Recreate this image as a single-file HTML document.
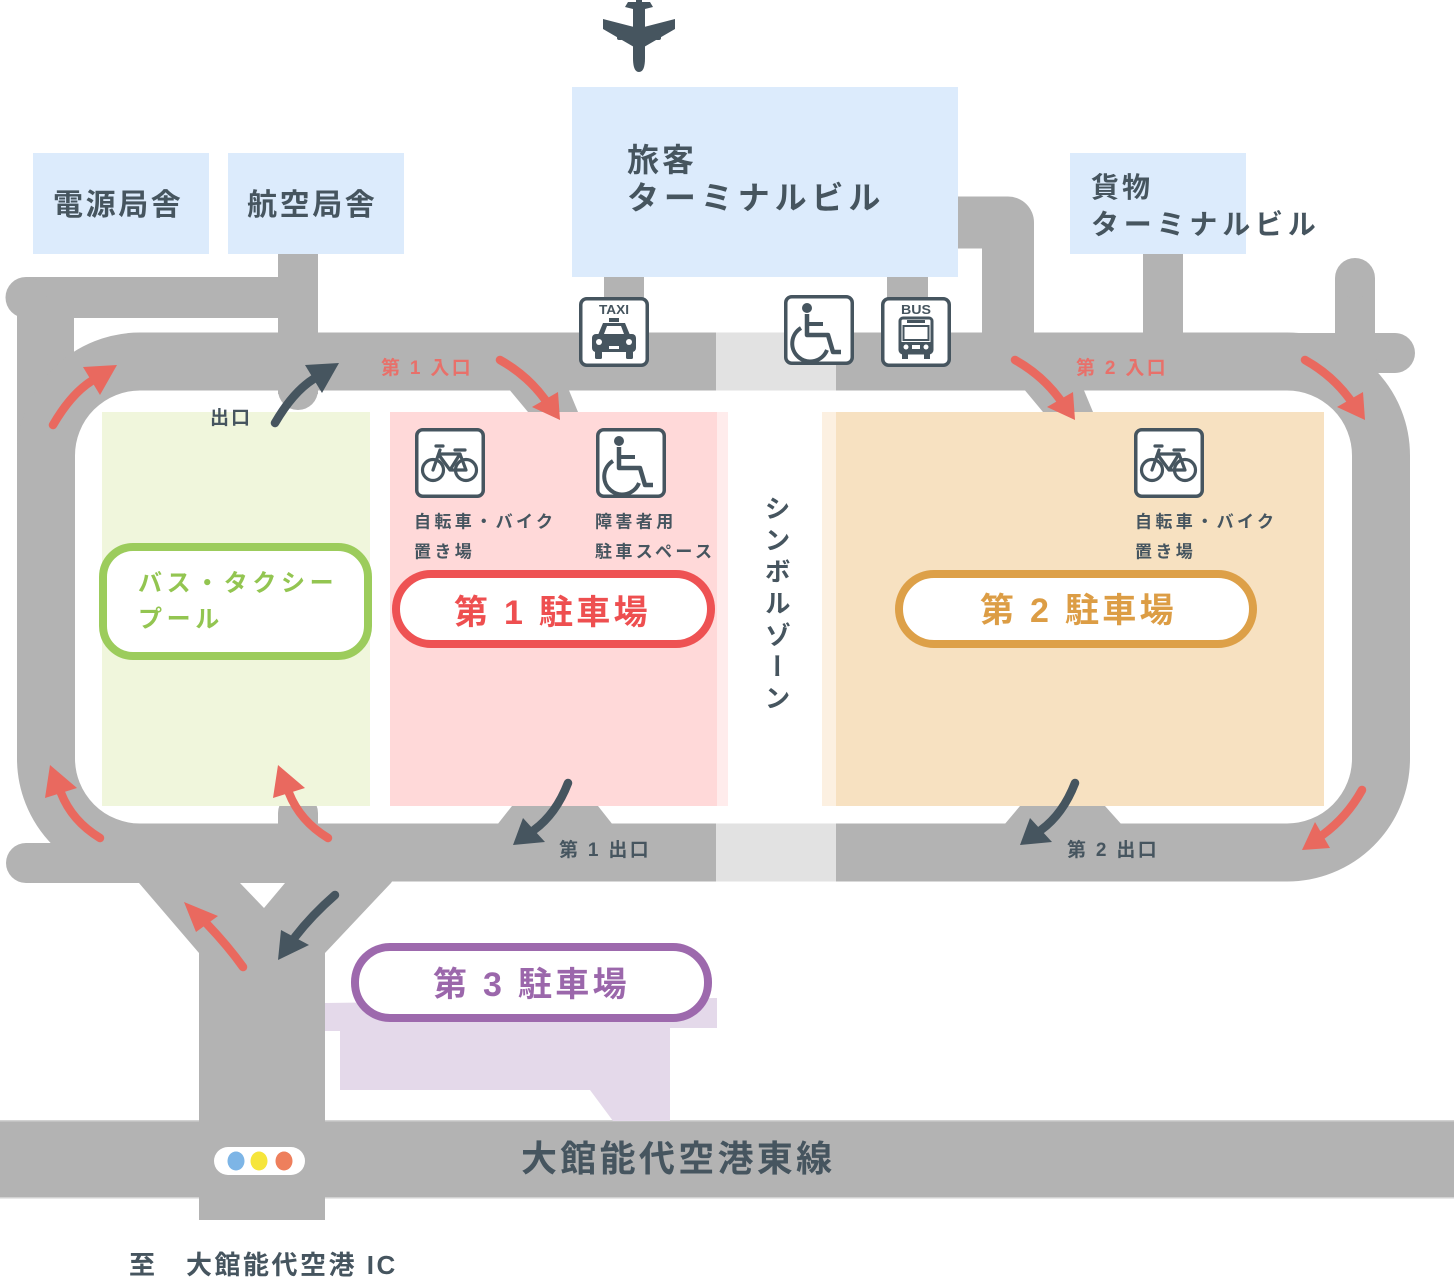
<!DOCTYPE html>
<html><head><meta charset="utf-8">
<style>
html,body{margin:0;padding:0;background:#fff;}
body{width:1454px;height:1277px;position:relative;overflow:hidden;}
svg{position:absolute;left:0;top:0;}
text{font-family:"Liberation Sans","Noto Sans CJK JP",sans-serif;font-weight:bold;}
.v{position:absolute;left:764px;top:495px;width:26px;writing-mode:vertical-rl;font-family:"Noto Sans CJK JP",sans-serif;font-weight:bold;font-size:26px;line-height:26px;letter-spacing:5.6px;color:#46555f;}
</style></head><body>
<svg width="1454" height="1277" viewBox="0 0 1454 1277">
<defs>
<g id="box"><rect x="1.75" y="1.75" width="66.5" height="66.5" rx="6" fill="#fff" stroke="#46555f" stroke-width="3.5"/></g>
<g id="bike">
<use href="#box"/>
<g fill="none" stroke="#46555f" stroke-width="3.2" stroke-linecap="round" stroke-linejoin="round">
<circle cx="18" cy="42" r="10.5"/><circle cx="51" cy="42" r="10.5"/>
<path d="M18 42 L25 22 M21 18 H28 M24 27 L35 42 H51 L45 26 M35 42 L45 26 H24 M40 22 H50"/>
</g></g>
<g id="wc">
<use href="#box"/>
<circle cx="23" cy="13" r="5" fill="#46555f"/>
<g fill="none" stroke="#46555f" stroke-linejoin="round">
<path d="M23 19 V40 H44 L49 57 H57" stroke-width="4.5"/>
<path d="M23 29 H39" stroke-width="4"/>
<path d="M17 33 A18 18 0 1 0 43 55" stroke-width="4"/>
</g></g>
<g id="taxi">
<use href="#box"/>
<text x="35" y="17" font-size="13" text-anchor="middle" fill="#46555f" textLength="30" lengthAdjust="spacingAndGlyphs">TAXI</text>
<rect x="30" y="21" width="10" height="4" fill="#46555f"/>
<path d="M19 38 L24 26 H46 L51 38 Z" fill="#46555f"/>
<path d="M25 37 L28 29 H42 L45 37 Z" fill="#fff"/>
<rect x="13" y="37" width="44" height="18" rx="4" fill="#46555f"/>
<circle cx="20" cy="45" r="3" fill="#fff"/><circle cx="50" cy="45" r="3" fill="#fff"/>
<rect x="30" y="49" width="10" height="3" fill="#fff"/>
<rect x="16" y="54" width="7" height="8" rx="1.5" fill="#46555f"/><rect x="47" y="54" width="7" height="8" rx="1.5" fill="#46555f"/>
</g>
<g id="bus">
<use href="#box"/>
<text x="35" y="17" font-size="13" text-anchor="middle" fill="#46555f" textLength="30" lengthAdjust="spacingAndGlyphs">BUS</text>
<rect x="19" y="21" width="32" height="35" rx="3" fill="#fff" stroke="#46555f" stroke-width="3"/>
<rect x="26" y="23" width="18" height="3" fill="#46555f"/>
<rect x="22.5" y="29" width="25" height="14" fill="none" stroke="#46555f" stroke-width="2"/>
<rect x="20" y="45" width="30" height="10" fill="#46555f"/>
<circle cx="25" cy="50" r="2.5" fill="#fff"/><circle cx="45" cy="50" r="2.5" fill="#fff"/>
<rect x="31" y="48" width="8" height="4" fill="#fff"/>
<rect x="21" y="56" width="6" height="6" fill="#46555f"/><rect x="43" y="56" width="6" height="6" fill="#46555f"/>
</g>
</defs>

<!-- airplane -->
<g fill="#46555f">
<path d="M633 8 H645 V58 Q645 72 639 72 Q633 72 633 58 Z"/>
<path d="M634 27 L603 19 L603 29 L634 47 Z"/>
<path d="M644 27 L675 19 L675 29 L644 47 Z"/>
<path d="M628 2 H650 L653 7 L641 10 H637 L625 7 Z"/>
<rect x="617" y="30" width="6" height="10" rx="2"/><rect x="655" y="30" width="6" height="10" rx="2"/>
<rect x="636" y="0" width="6" height="10"/>
</g>

<!-- roads -->
<g fill="#b3b3b3">
<path d="M950 222.5 H1008 V345" fill="none" stroke="#b3b3b3" stroke-width="52" stroke-linejoin="round"/>
<rect x="26" y="277" width="292" height="41"/><circle cx="26" cy="297.5" r="20.5"/>
<rect x="17" y="297" width="57" height="250"/>
<rect x="278" y="254" width="40" height="140"/><circle cx="298" cy="390" r="20"/>
<circle cx="298" cy="813" r="20"/><rect x="278" y="813" width="40" height="20"/>
<rect x="46" y="361.5" width="1335" height="491" rx="94" fill="none" stroke="#b3b3b3" stroke-width="58"/>
<rect x="960" y="333" width="435" height="40"/><circle cx="1395" cy="353" r="20"/>
<rect x="1335" y="278" width="40" height="60"/><circle cx="1355" cy="278" r="20"/>
<rect x="1143" y="250" width="40" height="90"/>
<rect x="604" y="270" width="40" height="32"/><rect x="887" y="270" width="41" height="32"/>
<rect x="26" y="843" width="300" height="40"/><circle cx="26" cy="863" r="20"/>
<polygon points="130,870 400,870 391,883 325,953 325,1220 199,1220 199,953 139,883"/>
<polygon points="508,388 568,388 578,412 528,412"/>
<polygon points="1023,388 1083,388 1093,412 1043,412"/>
<polygon points="497,825 512,806 598,806 613,825"/>
<polygon points="1004,825 1020,806 1105,806 1122,825"/>
<rect x="0" y="1121" width="1454" height="77"/>
</g>
<polygon points="240,883 285,883 264,908" fill="#fff"/>
<rect x="0" y="1120" width="1454" height="1.5" fill="#d2d2d2"/>
<rect x="0" y="1197" width="1454" height="1.5" fill="#d2d2d2"/>
<rect x="199" y="1118" width="126" height="84" fill="#b3b3b3"/>

<!-- symbol zone road -->
<rect x="716" y="332.5" width="120" height="58" fill="#e2e2e2"/>
<rect x="716" y="823.5" width="120" height="58" fill="#e2e2e2"/>

<!-- buildings -->
<rect x="572" y="87" width="386" height="190" fill="#dcebfc"/>
<rect x="33" y="153" width="176" height="101" fill="#dcebfc"/>
<rect x="228" y="153" width="176" height="101" fill="#dcebfc"/>
<rect x="1070" y="153" width="176" height="101" fill="#dcebfc"/>

<!-- parking areas -->
<rect x="102" y="412" width="268" height="394" fill="#f0f6dc"/>
<rect x="390" y="412" width="327" height="394" fill="#ffd9d9"/>
<rect x="717" y="412" width="11" height="394" fill="#ffecec"/>
<rect x="822" y="412" width="14" height="394" fill="#fcf0e1"/>
<rect x="836" y="412" width="488" height="394" fill="#f7e1c1"/>
<polygon points="325,1003 717,998 717,1028 670,1028 670,1121 613,1121 590,1090 340,1090 340,1031 325,1031" fill="#e4d9ea"/>

<!-- pills -->
<rect x="103" y="547" width="265" height="109" rx="30" fill="#fff" stroke="#9ccc5c" stroke-width="8"/>
<rect x="396" y="574" width="315" height="70" rx="35" fill="#fff" stroke="#ee5253" stroke-width="8"/>
<rect x="899" y="574" width="354" height="70" rx="35" fill="#fff" stroke="#dda048" stroke-width="8"/>
<rect x="355" y="947" width="353" height="71" rx="35" fill="#fff" stroke="#9d69ad" stroke-width="8"/>

<!-- icons -->
<use href="#taxi" x="579" y="297"/>
<use href="#wc" x="784" y="295"/>
<use href="#bus" x="881" y="297"/>
<use href="#bike" x="415" y="428"/>
<use href="#wc" x="596" y="428"/>
<use href="#bike" x="1134" y="428"/>

<!-- traffic light -->
<rect x="214" y="1147" width="91" height="28" rx="14" fill="#fff"/>
<ellipse cx="236" cy="1161" rx="8.5" ry="9.5" fill="#7db5e6"/>
<ellipse cx="259" cy="1161" rx="8.5" ry="9.5" fill="#f6e53b"/>
<ellipse cx="284" cy="1161" rx="8.5" ry="9.5" fill="#ee7f5c"/>

<!-- arrows -->
<g fill="none" stroke-width="8.5" stroke-linecap="round">
<path d="M53 425 Q71 394 91.5 381" stroke="#e9695f"/>
<path d="M275 423 Q293 392 313.5 379" stroke="#46555f"/>
<path d="M500 360 Q527 375 545 399.5" stroke="#e9695f"/>
<path d="M1015 360 Q1042 375 1060 399.5" stroke="#e9695f"/>
<path d="M1305 360 Q1332 375 1350 399.5" stroke="#e9695f"/>
<path d="M1362 790 Q1347 817 1322.5 835" stroke="#e9695f"/>
<path d="M100 838 Q72 821 61 793" stroke="#e9695f"/>
<path d="M328 838 Q300 821 289 793" stroke="#e9695f"/>
<path d="M1075 783 Q1063 814 1041 830" stroke="#46555f"/>
<path d="M568 783 Q556 814 534 830" stroke="#46555f"/>
<path d="M243 967 Q228 946 207 924" stroke="#e9695f"/>
<path d="M335 895 Q312 915 295 937" stroke="#46555f"/>
</g>
<g fill="#e9695f">
<polygon points="117,365 83,367 100,395"/>
<polygon points="560,420 532,407 558,392"/>
<polygon points="1075,420 1047,407 1073,392"/>
<polygon points="1365,420 1337,407 1363,392"/>
<polygon points="1302,850 1315,822 1330,848"/>
<polygon points="50,765 45,798 77,788"/>
<polygon points="278,765 273,798 305,788"/>
<polygon points="184,902 196,932 218,916"/>
</g>
<g fill="#46555f">
<polygon points="339,363 305,365 322,393"/>
<polygon points="1020,845 1030,818 1052,842"/>
<polygon points="513,845 523,818 545,842"/>
<polygon points="278,960 281,930 309,945"/>
</g>

<!-- texts -->
<g fill="#46555f">
<text x="53" y="215" font-size="30" letter-spacing="2.6">電源局舎</text>
<text x="247" y="215" font-size="30" letter-spacing="2.6">航空局舎</text>
<text x="627" y="171" font-size="32" letter-spacing="3">旅客</text>
<text x="627" y="209" font-size="32" letter-spacing="4.9">ターミナルビル</text>
<text x="1091" y="197" font-size="28" letter-spacing="3">貨物</text>
<text x="1091" y="234" font-size="28" letter-spacing="4.8">ターミナルビル</text>
<text x="210" y="424" font-size="19" letter-spacing="2">出口</text>
<text x="559" y="856" font-size="19" letter-spacing="2.3">第 1 出口</text>
<text x="1067" y="856" font-size="19" letter-spacing="2.3">第 2 出口</text>
<text x="414" y="527.5" font-size="17" letter-spacing="3.4">自転車・バイク</text>
<text x="414" y="557.5" font-size="17" letter-spacing="3.4">置き場</text>
<text x="595" y="527.5" font-size="17" letter-spacing="3.4">障害者用</text>
<text x="595" y="557.5" font-size="17" letter-spacing="3.4">駐車スペース</text>
<text x="1135" y="527.5" font-size="17" letter-spacing="3.4">自転車・バイク</text>
<text x="1135" y="557.5" font-size="17" letter-spacing="3.4">置き場</text>
<text x="521" y="1171" font-size="36" letter-spacing="3.3">大館能代空港東線</text>
<text x="129" y="1274" font-size="26" letter-spacing="2.5">至　大館能代空港 IC</text>
</g>
<g fill="#e8706a">
<text x="381" y="374" font-size="19" letter-spacing="2.3">第 1 入口</text>
<text x="1076" y="374" font-size="19" letter-spacing="2.3">第 2 入口</text>
</g>
<text x="138" y="591" font-size="24" letter-spacing="4.6" fill="#93c551">バス・タクシー</text>
<text x="138" y="627" font-size="24" letter-spacing="4.6" fill="#93c551">プール</text>
<text x="454" y="624" font-size="34" letter-spacing="3.3" fill="#ee4f50">第 1 駐車場</text>
<text x="980" y="622" font-size="34" letter-spacing="3.3" fill="#dc9d45">第 2 駐車場</text>
<text x="433" y="996" font-size="34" letter-spacing="3.3" fill="#9b67ab">第 3 駐車場</text>
</svg>
<div class="v">シンボルゾーン</div>
</body></html>
